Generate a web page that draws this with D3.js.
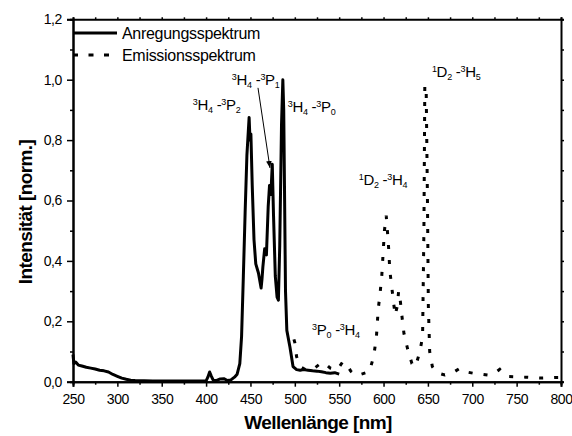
<!DOCTYPE html>
<html>
<head>
<meta charset="utf-8">
<script src="https://cdn.jsdelivr.net/npm/d3@7"></script>
<style>
  body { margin: 0; background: #fff; }
  text { font-family: Arial, "Liberation Sans", sans-serif; fill: #000; }
</style>
</head>
<body>
<div class="canvas"></div>
<script>
// Anregungsspektrum (excitation)
const exWl = [250,251,253,256,260,265,270,275,280,285,290,295,300,305,310,315,320,330,340,350,360,370,380,390,400,402,404,406,408,412,416,420,424,428,432,435,438,440,442,444,446,448.5,449.5,450.5,452,454,456,459,462,463,464,466,468,470,471.5,473,474.6,476,478,480,481.5,483,485,486.5,487.5,488.5,489.5,491,494.5,498,502,506,510,515,520,525,530,535,540,545,550];
const exVal = [0.09,0.06,0.065,0.055,0.052,0.048,0.045,0.042,0.038,0.036,0.032,0.024,0.018,0.012,0.008,0.005,0.004,0.003,0.002,0.002,0.002,0.002,0.002,0.002,0.003,0.015,0.032,0.018,0.005,0.004,0.009,0.01,0.004,0.006,0.015,0.025,0.06,0.15,0.35,0.56,0.75,0.875,0.8,0.82,0.65,0.47,0.39,0.36,0.31,0.34,0.38,0.44,0.42,0.58,0.65,0.62,0.72,0.55,0.35,0.28,0.27,0.45,0.85,1.0,0.9,0.6,0.3,0.17,0.115,0.05,0.04,0.038,0.04,0.038,0.036,0.035,0.033,0.03,0.028,0.03,0.025];

// Emissionsspektrum
const emWl = [499,500,502,506,512,520,528,533,540,548,554,558,563,568,575,584,589,592,594,596,598,599,600,601,603,605,606,607,609,611,613,615.5,617,619,621,623,627,632,636,641,644,645.5,646.5,648,649.5,650.5,652,655,660,669,678,686,694,701,710,718,725,731,736,741,750,760,770,778,788,795,800];
const emVal = [0.14,0.13,0.083,0.05,0.04,0.04,0.058,0.063,0.045,0.04,0.066,0.06,0.035,0.022,0.025,0.033,0.085,0.15,0.24,0.29,0.35,0.4,0.45,0.5,0.55,0.475,0.43,0.37,0.32,0.27,0.22,0.25,0.3,0.265,0.21,0.16,0.11,0.06,0.05,0.1,0.15,0.5,0.98,0.98,0.6,0.25,0.1,0.05,0.03,0.022,0.03,0.044,0.032,0.028,0.025,0.022,0.028,0.041,0.025,0.017,0.016,0.015,0.013,0.012,0.013,0.014,0.014];

const xTicks = [250,300,350,400,450,500,550,600,650,700,750,800];
const yTicks = [0,0.2,0.4,0.6,0.8,1.0,1.2];

// annotations: [sup1, main1, sub1, sup2, main2, sub2, x(nm), y]
const notes = [
  ['3','H','4','3','P','2',385,0.90],
  ['3','H','4','3','P','1',429,0.983],
  ['3','H','4','3','P','0',492,0.893],
  ['1','D','2','3','H','5',654.5,1.009],
  ['1','D','2','3','H','4',572,0.651],
  ['3','P','0','3','H','4',519.5,0.155]
];

const svg = d3.select('.canvas')
  .append('svg')
  .attr('width', 572)
  .attr('height', 436);

const x = d3.scaleLinear().domain([250, 800]).range([73, 561]);
const y = d3.scaleLinear().domain([0, 1.2]).range([381.7, 19.3]);

const fmt = d => d3.format('.1f')(d).replace('.', ',');

// axes
svg.append('g').attr('transform', `translate(0,${y(0)})`)
  .call(d3.axisBottom(x).tickValues(xTicks).tickSize(5).tickPadding(7).tickFormat(d3.format('d')));
svg.append('g').attr('transform', `translate(0,${y(0)})`)
  .call(d3.axisBottom(x).tickValues(d3.range(275, 800, 50)).tickSize(3).tickFormat(''));
svg.append('g').attr('transform', `translate(${x(250)},0)`)
  .call(d3.axisLeft(y).tickValues(yTicks).tickSize(6).tickPadding(5).tickFormat(fmt));
svg.append('g').attr('transform', `translate(${x(250)},0)`)
  .call(d3.axisLeft(y).tickValues([0.1,0.3,0.5,0.7,0.9,1.1]).tickSize(3).tickFormat(''));
svg.append('g').attr('transform', `translate(0,${y(1.2)})`)
  .call(d3.axisTop(x).tickValues(d3.range(250, 801, 25)).tickSize(2).tickFormat(''));
svg.append('g').attr('transform', `translate(${x(800)},0)`)
  .call(d3.axisRight(y).tickValues(d3.range(0, 1.21, 0.1)).tickSize(3).tickFormat(''));

svg.selectAll('.domain').attr('stroke', '#000').attr('stroke-width', 2);
svg.selectAll('.tick line').attr('stroke', '#000').attr('stroke-width', 1.5);
svg.selectAll('.tick text').style('font-size', '14px').style('letter-spacing', '-0.4px')
  .attr('font-family', 'Arial, "Liberation Sans", sans-serif').attr('fill', '#000');

// lines
const line = d3.line().x(d => x(d[0])).y(d => y(d[1]));
svg.append('path')
  .datum(exWl.map((w, i) => [w, exVal[i]]))
  .attr('d', line)
  .attr('fill', 'none')
  .attr('stroke', '#000')
  .attr('stroke-width', 3)
  .attr('stroke-linejoin', 'round');

svg.append('path')
  .datum(emWl.map((w, i) => [w, emVal[i]]))
  .attr('d', line)
  .attr('fill', 'none')
  .attr('stroke', '#000')
  .attr('stroke-width', 3)
  .attr('stroke-dasharray', '4,11');

// legend
const legend = svg.append('g');
legend.append('line').attr('x1', x(250)).attr('x2', 117).attr('y1', 33).attr('y2', 33)
  .attr('stroke', '#000').attr('stroke-width', 3);
legend.append('line').attr('x1', x(250)).attr('x2', 117).attr('y1', 55).attr('y2', 55)
  .attr('stroke', '#000').attr('stroke-width', 3).attr('stroke-dasharray', '5,10.5');
legend.append('text').attr('x', 122).attr('y', 39).style('font-size', '16px')
  .style('letter-spacing', '-0.3px').text('Anregungsspektrum');
legend.append('text').attr('x', 122).attr('y', 61).style('font-size', '16px')
  .style('letter-spacing', '-0.3px').text('Emissionsspektrum');

// annotations
notes.forEach(n => {
  const t = svg.append('text').attr('x', x(n[6])).attr('y', y(n[7])).style('font-size', '15px')
    .style('letter-spacing', '-0.3px');
  t.append('tspan').attr('dy', -5).style('font-size', '9px').text(n[0]);
  t.append('tspan').attr('dy', 5).text(n[1]);
  t.append('tspan').attr('dy', 3).style('font-size', '9px').text(n[2]);
  t.append('tspan').attr('dy', -3).text(' -');
  t.append('tspan').attr('dy', -5).style('font-size', '9px').text(n[3]);
  t.append('tspan').attr('dy', 5).text(n[4]);
  t.append('tspan').attr('dy', 3).style('font-size', '9px').text(n[5]);
});

// arrow to 3P1 peak
svg.append('defs').append('marker')
  .attr('id', 'arr').attr('viewBox', '0 0 10 10').attr('refX', 10).attr('refY', 5)
  .attr('markerWidth', 7).attr('markerHeight', 7).attr('orient', 'auto')
  .append('path').attr('d', 'M0,1L10,5L0,9Z').attr('fill', '#000');
svg.append('line')
  .attr('x1', x(458.5)).attr('y1', y(0.973))
  .attr('x2', x(472)).attr('y2', y(0.708))
  .attr('stroke', '#000').attr('stroke-width', 1)
  .attr('marker-end', 'url(#arr)');

// axis titles
svg.append('text').attr('x', 318).attr('y', 429).attr('text-anchor', 'middle')
  .style('font-size', '19px').style('font-weight', 'bold').style('letter-spacing', '-0.6px')
  .text('Wellenlänge [nm]');
svg.append('text').attr('transform', 'translate(32,212) rotate(-90)').attr('text-anchor', 'middle')
  .style('font-size', '19px').style('font-weight', 'bold').style('letter-spacing', '-0.6px')
  .text('Intensität [norm.]');
</script>
</body>
</html>
